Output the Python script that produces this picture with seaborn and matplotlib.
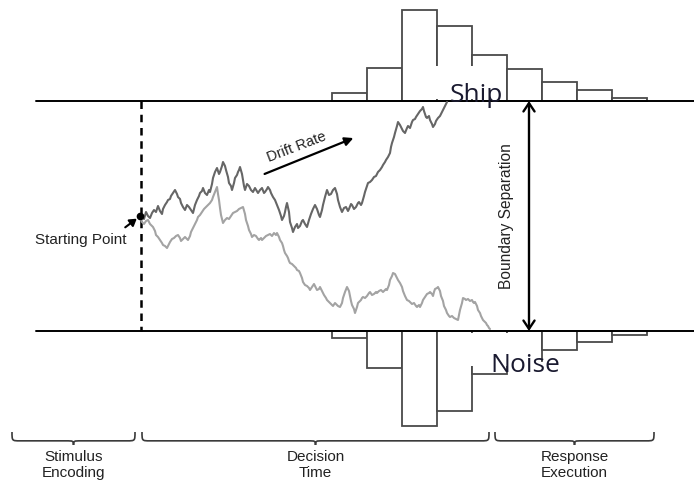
import numpy as np
import pandas as pd
import matplotlib
matplotlib.use("Agg")
import matplotlib.pyplot as plt
import seaborn as sns
from matplotlib.path import Path
from matplotlib.patches import PathPatch, Rectangle, FancyArrowPatch

# ---------------- data ----------------
# RT histogram counts (upper = "Ship" responses, lower = "Noise" responses)
top_counts = [8, 33, 91, 75, 46, 32, 19, 11, 3.5]
bottom_counts = [7, 37, 95, 80, 43, 30, 19, 11, 4]

# sample evidence-accumulation paths: (time, evidence) in picture units
walk_up = [
    (140, 218), (142, 214), (144, 219), (146, 212), (148, 216), (150, 218), (152, 213), (154, 210),
    (156, 212), (158, 206), (160, 211), (162, 214), (163, 209), (165, 205), (167, 202), (168, 200),
    (170, 199), (171, 196), (173, 193), (175, 190), (177, 194), (178, 197), (180, 199), (181, 203),
    (183, 207), (185, 210), (187, 205), (189, 207), (191, 210), (193, 213), (195, 205), (197, 200),
    (199, 196), (200, 193), (202, 191), (203, 188), (205, 193), (207, 195), (209, 190), (210, 192),
    (212, 184), (213, 178), (215, 172), (217, 168), (219, 174), (220, 172), (222, 166), (223, 162),
    (225, 166), (226, 170), (228, 177), (229, 183), (231, 186), (232, 190), (234, 183), (235, 178),
    (237, 175), (238, 172), (239, 170), (240, 167), (242, 174), (243, 180), (244, 186), (245, 190),
    (247, 184), (249, 186), (251, 190), (253, 192), (255, 188), (258, 193), (260, 190), (262, 188),
    (264, 193), (265, 192), (267, 189), (268, 187), (270, 190), (271, 193), (273, 197), (275, 200),
    (277, 205), (279, 210), (281, 216), (282, 220), (284, 216), (285, 212), (286, 207), (287, 203),
    (289, 212), (290, 222), (292, 228), (293, 232), (295, 227), (297, 224), (298, 228), (300, 226),
    (302, 221), (303, 220), (305, 224), (307, 227), (309, 220), (311, 214), (313, 209), (315, 205),
    (317, 209), (318, 212), (319, 215), (320, 217), (322, 210), (323, 205), (325, 197), (327, 190),
    (329, 195), (331, 194), (333, 190), (335, 188), (337, 194), (338, 200), (340, 207), (342, 212),
    (344, 208), (346, 207), (348, 211), (349, 209), (351, 204), (352, 205), (354, 209), (356, 207),
    (358, 203), (359, 202), (361, 205), (362, 203), (364, 196), (365, 192), (367, 186), (368, 183),
    (370, 182), (372, 180), (374, 177), (376, 176), (378, 172), (380, 170), (382, 167), (383, 165),
    (385, 162), (386, 160), (388, 157), (390, 153), (391, 147), (392, 143), (394, 137), (395, 133),
    (397, 126), (398, 122), (400, 125), (401, 127), (403, 131), (405, 133), (407, 128), (408, 126),
    (410, 128), (411, 125), (412, 122), (413, 120), (415, 119), (416, 117), (418, 114), (420, 111),
    (422, 109), (423, 107), (424, 111), (425, 114), (426, 117), (427, 118), (429, 116), (430, 120),
    (432, 124), (433, 127), (435, 124), (436, 121), (438, 118), (440, 116), (442, 112), (443, 110),
    (444, 108), (445, 106), (446, 104), (447, 102),
]
walk_dn = [
    (140, 218), (142, 222), (144, 224), (146, 221), (148, 220), (150, 224), (153, 227), (155, 231),
    (156, 235), (158, 237), (160, 240), (162, 243), (163, 245), (165, 246), (167, 248), (169, 244),
    (170, 242), (172, 239), (174, 238), (176, 236), (178, 235), (180, 238), (181, 241), (183, 239),
    (185, 237), (187, 239), (188, 240), (190, 236), (191, 232), (193, 228), (195, 224), (197, 220),
    (198, 217), (200, 215), (202, 212), (204, 209), (206, 207), (208, 205), (210, 203), (212, 200),
    (213, 197), (215, 192), (217, 187), (218, 194), (219, 200), (220, 208), (221, 215), (222, 219),
    (223, 223), (225, 220), (227, 218), (229, 219), (231, 216), (233, 213), (235, 212), (237, 211),
    (239, 209), (241, 208), (243, 207), (245, 214), (246, 220), (248, 226), (249, 230), (251, 234),
    (252, 237), (254, 235), (256, 236), (258, 239), (259, 240), (261, 238), (262, 240), (264, 238),
    (266, 236), (268, 235), (270, 234), (272, 236), (274, 233), (276, 235), (277, 233), (279, 237),
    (280, 240), (282, 243), (283, 246), (284, 250), (285, 253), (287, 256), (288, 258), (289, 261),
    (290, 263), (292, 264), (294, 266), (296, 268), (297, 270), (299, 271), (300, 273), (302, 278),
    (303, 282), (305, 285), (307, 286), (309, 288), (310, 290), (312, 287), (314, 284), (316, 288),
    (317, 290), (319, 289), (320, 287), (322, 291), (324, 295), (326, 298), (327, 300), (329, 302),
    (330, 303), (332, 305), (333, 306), (335, 303), (336, 304), (338, 306), (340, 307), (342, 303),
    (343, 298), (345, 292), (347, 287), (349, 291), (350, 296), (351, 301), (352, 305), (354, 309),
    (355, 313), (357, 307), (358, 303), (360, 301), (361, 300), (362, 298), (363, 297), (365, 298),
    (367, 296), (369, 293), (370, 292), (372, 295), (374, 294), (376, 292), (377, 293), (379, 291),
    (381, 290), (383, 292), (384, 291), (386, 289), (387, 290), (389, 285), (390, 280), (392, 276),
    (393, 273), (395, 274), (396, 276), (398, 280), (400, 283), (402, 287), (403, 291), (405, 296),
    (407, 300), (409, 301), (410, 302), (412, 304), (414, 303), (416, 306), (417, 307), (419, 305),
    (420, 307), (422, 303), (423, 300), (425, 297), (427, 294), (429, 293), (430, 292), (432, 294),
    (433, 296), (434, 292), (435, 289), (437, 288), (438, 287), (440, 291), (441, 296), (443, 301),
    (444, 306), (446, 310), (447, 313), (449, 316), (450, 317), (452, 316), (454, 318), (456, 319),
    (458, 320), (459, 315), (460, 310), (462, 303), (463, 298), (465, 299), (466, 300), (468, 299),
    (470, 301), (472, 300), (473, 302), (474, 303), (475, 302), (477, 306), (478, 310), (480, 313),
    (481, 316), (482, 318), (483, 320), (485, 322), (486, 323), (487, 325), (488, 326), (489, 328),
    (490, 329),
]

stage_labels = ["Stimulus\nEncoding", "Decision\nTime", "Response\nExecution"]
stage_start = [12, 142, 495]
stage_end = [135, 489, 654]

# ---------------- layout ----------------
W, H = 694, 484
TOP_Y, BOT_Y = 101, 331
LINE_X0 = 36
START_X, START_Y = 140, 216
HIST_X0, BIN_W = 332, 35

sns.set_style("white")
plt.rcParams["font.family"] = ["Liberation Sans", "DejaVu Sans"]

fig = plt.figure(figsize=(W / 100, H / 100), dpi=100)
ax = fig.add_axes([0, 0, 1, 1])

hist_edge = "#4a4a4a"
lefts = [HIST_X0 + i * BIN_W for i in range(len(top_counts))]
ax.bar(lefts, [-c for c in top_counts], bottom=TOP_Y, width=BIN_W, align="edge",
       facecolor="white", edgecolor=hist_edge, linewidth=1.3, zorder=1)
ax.bar(lefts, bottom_counts, bottom=BOT_Y, width=BIN_W, align="edge",
       facecolor="white", edgecolor=hist_edge, linewidth=1.3, zorder=1)

# white label boxes that hide part of the histograms
ax.add_patch(Rectangle((404, 66), 102, 33, facecolor="white", edgecolor="none", zorder=2))
ax.add_patch(Rectangle((440, 332.5), 101, 33.5, facecolor="white", edgecolor="none", zorder=2))

# boundaries
ax.plot([LINE_X0, W], [TOP_Y, TOP_Y], color="black", lw=1.4, zorder=3)
ax.plot([LINE_X0, W], [BOT_Y, BOT_Y], color="black", lw=1.4, zorder=3)

# non-decision (encoding) dashed line
ax.plot([START_X + 1, START_X + 1], [TOP_Y, BOT_Y], color="black", lw=1.8,
        linestyle=(0, (3, 2.3)), zorder=3)

# walks
df_up = pd.DataFrame(walk_up, columns=["t", "e"])
df_dn = pd.DataFrame(walk_dn, columns=["t", "e"])
sns.lineplot(data=df_dn, x="t", y="e", sort=False, estimator=None, color="#a3a3a3",
             lw=1.5, ax=ax, zorder=3)
sns.lineplot(data=df_up, x="t", y="e", sort=False, estimator=None, color="#666666",
             lw=1.5, ax=ax, zorder=4)
ax.set_xlim(0, W)
ax.set_ylim(H, 0)
ax.axis("off")

# starting point
ax.plot([START_X], [START_Y], "o", color="black", ms=4.5, zorder=5)
ax.add_patch(FancyArrowPatch((123, 229), (139, 217), arrowstyle="-|>,head_length=4,head_width=2.5",
                             color="black", lw=1.5, zorder=5))
ax.text(81, 240, "Starting Point", ha="center", va="center", fontsize=11, color="#222222")

# drift rate
ax.add_patch(FancyArrowPatch((262, 175), (356, 137), arrowstyle="-|>,head_length=5,head_width=2.5",
                             color="black", lw=1.6, zorder=5))
ax.text(297, 147, "Drift Rate", ha="center", va="center", rotation=21, fontsize=10.5,
        color="#222222")

# boundary separation
ax.add_patch(FancyArrowPatch((529, TOP_Y), (529, BOT_Y), arrowstyle="<->,head_length=6,head_width=4",
                             color="black", lw=1.7, zorder=5, shrinkA=0, shrinkB=0))
ax.text(507, 216, "Boundary Separation", ha="center", va="center", rotation=90, fontsize=11.2,
        color="#222222")

# response labels
ax.text(476, 102, "Ship", ha="center", va="baseline", fontsize=19, family="Open Sans",
        color="#1a1a30", zorder=6)
ax.text(525, 372, "Noise", ha="center", va="baseline", fontsize=19, family="Open Sans",
        color="#1a1a30", zorder=6)

# braces
def brace(x0, x1, y0, depth=13, r=8):
    xm = (x0 + x1) / 2
    yb = y0 + depth * 0.68
    yt = y0 + depth
    verts = [(x0, y0), (x0, yb), (x0, yb), (x0 + r, yb),
             (xm - r, yb), (xm, yb), (xm, yb), (xm, yt),
             (xm, yb), (xm, yb), (xm + r, yb),
             (x1 - r, yb), (x1, yb), (x1, yb), (x1, y0)]
    codes = [Path.MOVETO, Path.CURVE4, Path.CURVE4, Path.CURVE4,
             Path.LINETO, Path.CURVE4, Path.CURVE4, Path.CURVE4,
             Path.CURVE4, Path.CURVE4, Path.CURVE4,
             Path.LINETO, Path.CURVE4, Path.CURVE4, Path.CURVE4]
    return PathPatch(Path(verts, codes), facecolor="none", edgecolor="#3a3a3a", lw=1.2)

for lab, a, b in zip(stage_labels, stage_start, stage_end):
    ax.add_patch(brace(a, b, 432))
    ax.text((a + b) / 2, 465, lab, ha="center", va="center", fontsize=11, color="#222222",
            linespacing=1.2)

fig.savefig("out.png", dpi=100)
